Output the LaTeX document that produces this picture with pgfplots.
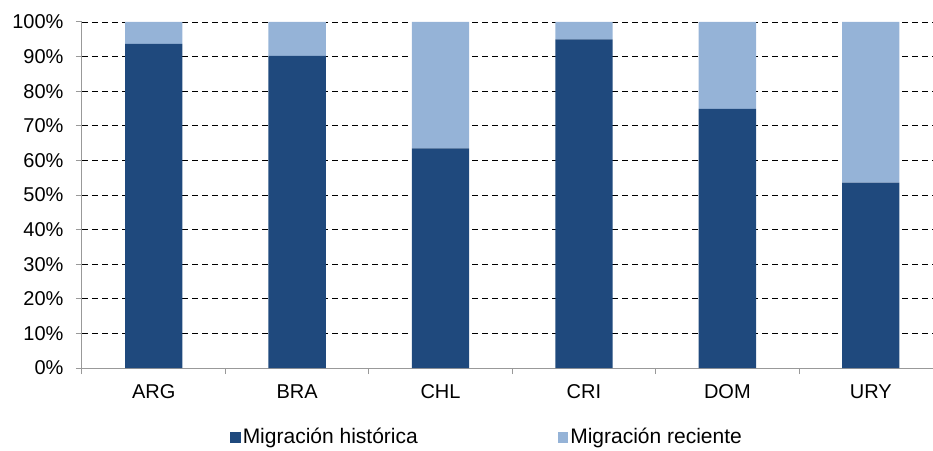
\documentclass[border=0pt]{standalone}
\usepackage{pgfplots}
\pgfplotsset{compat=1.18}
\usepackage{fontspec}
\setmainfont{Liberation Sans}
\definecolor{darkblue}{RGB}{31,73,125}
\definecolor{lightblue}{RGB}{149,179,215}
\begin{document}
\begin{tikzpicture}
\begin{axis}[
  name=ax,
  at={(0pt,0pt)}, anchor=south west,
  scale only axis, width=851pt, height=346pt,
  ybar stacked, bar width=0.4,
  xmin=-0.5, xmax=5.434, ymin=0, ymax=100,
  xtick={-0.5,0.5,1.5,2.5,3.5,4.5}, xticklabels={},
  extra x ticks={0,1,2,3,4,5},
  extra x tick labels={ARG,BRA,CHL,CRI,DOM,URY},
  extra x tick style={major tick length=0pt, grid=none,
    xticklabel style={yshift=-13pt}},
  ytick={0,10,...,100},
  yticklabel={\pgfmathprintnumber{\tick}\%},
  yticklabel style={xshift=-9pt},
  /pgf/number format/assume math mode=true,
  ymajorgrids,
  grid style={black, dash pattern=on 6pt off 4pt, line width=0.8pt},
  axis x line*=bottom, axis y line*=left,
  axis line style={draw=gray!80, line width=1pt, -},
  tick align=outside, major tick length=6pt,
  tick style={draw=gray!80, line width=1pt},
  tick label style={font=\fontsize{20}{23}\selectfont},
  legend style={at={(0.476,-0.198)}, anchor=center, draw=none,
    font=\fontsize{21}{24}\selectfont, legend columns=2,
    /tikz/every even column/.append style={column sep=138pt}},
  legend image code/.code={\fill[#1] (0pt,-6pt) rectangle (10.5pt,5pt);},
]
\addplot[fill=darkblue, draw=none] coordinates {(0,93.7) (1,90.2) (2,63.5) (3,95.0) (4,74.9) (5,53.6)};
\addplot[fill=lightblue, draw=none] coordinates {(0,6.3) (1,9.8) (2,36.5) (3,5.0) (4,25.1) (5,46.4)};
\legend{Migración histórica, Migración reciente}
\end{axis}
\pgfresetboundingbox
\path (-82pt,-82pt) rectangle (851pt,368pt);
\end{tikzpicture}
\end{document}
